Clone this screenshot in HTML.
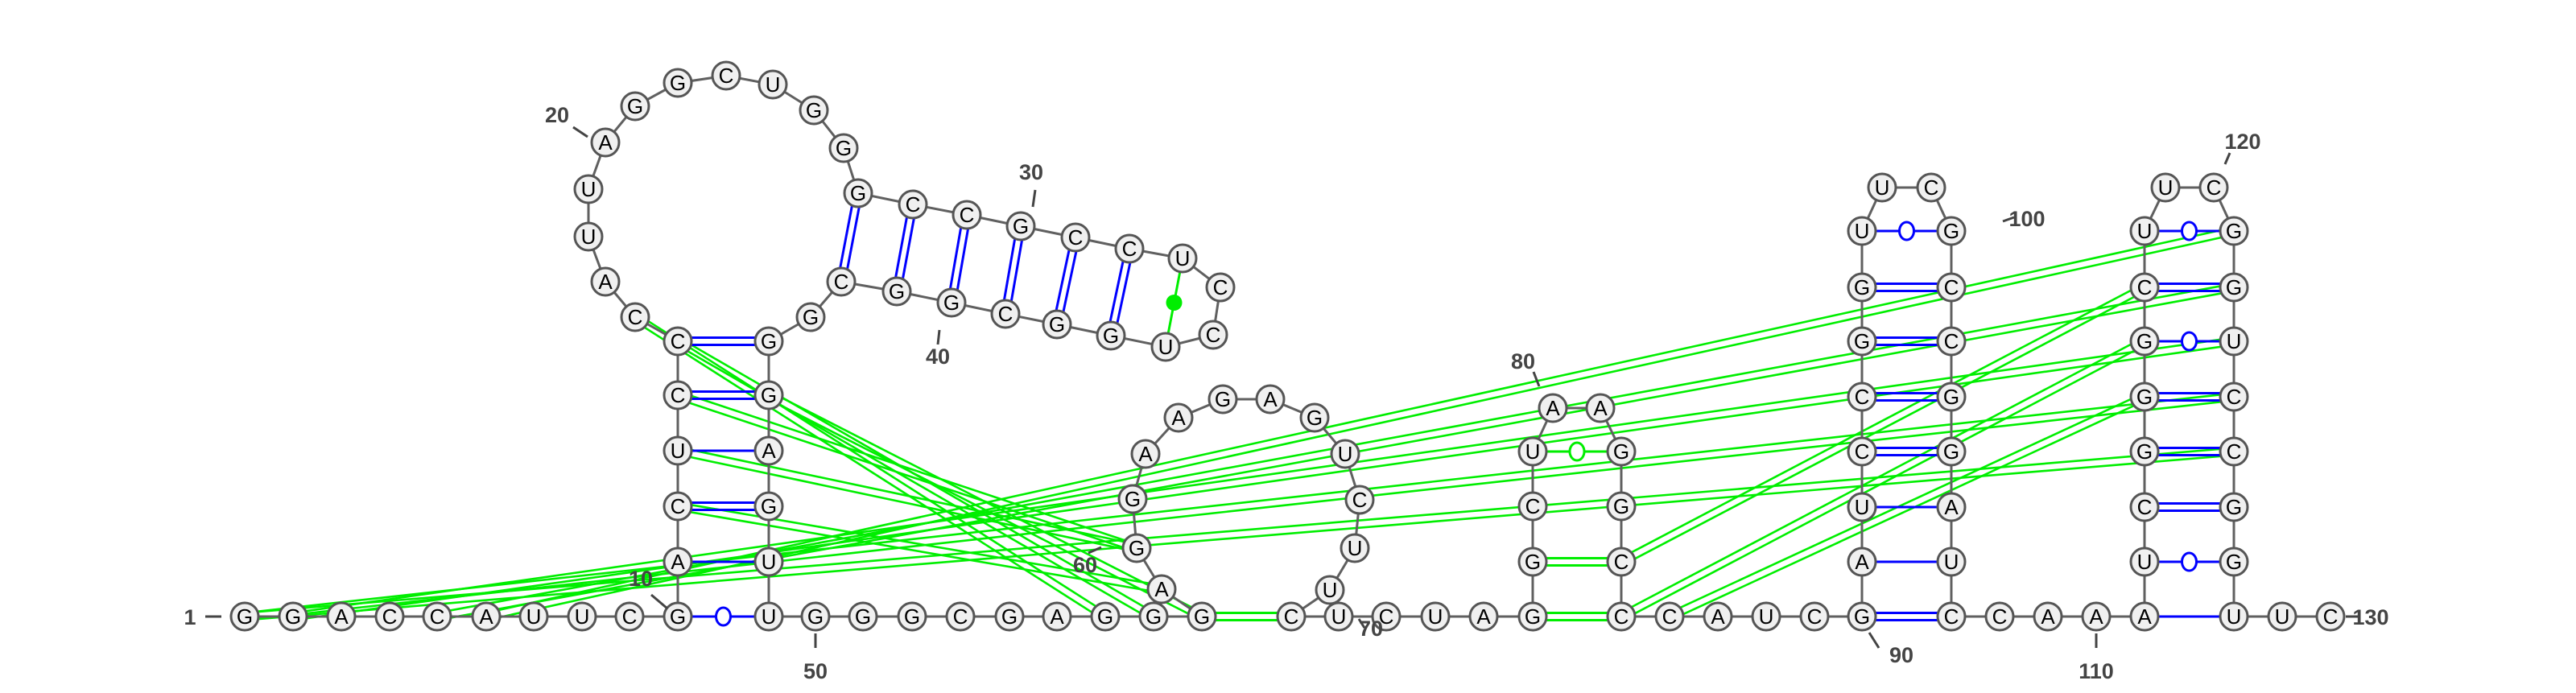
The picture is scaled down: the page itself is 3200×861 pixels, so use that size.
<!DOCTYPE html>
<html><head><meta charset="utf-8">
<style>
html,body{margin:0;padding:0;background:#fff;}
svg{display:block;}
text{font-family:"Liberation Sans",sans-serif;}
</style></head>
<body>
<svg id="chart" width="3200" height="861" viewBox="0 0 3200 861" xmlns="http://www.w3.org/2000/svg">
<g id="tert"></g>
<g id="backbone"></g>
<g id="pairs"></g>
<g id="nodes"></g>
<g id="labels"></g>
</svg>
<script>
// nucleotide coordinates in sequence order [x, y, base]
const nucleotides = [
[304,766,'G'],[364,766,'G'],[424,766,'A'],[484,766,'C'],[543,766,'C'],[604,766,'A'],[663,766,'U'],[723,766,'U'],[782,766,'C'],[842,766,'G'],
[842,698,'A'],[842,629,'C'],[842,560,'U'],[842,491,'C'],[842,424,'C'],
[789,394,'C'],[752,350,'A'],[731,294,'U'],[731,235,'U'],[752,177,'A'],[789,132,'G'],[842,103,'G'],[902,94,'C'],[960,105,'U'],[1011,137,'G'],[1048,184,'G'],[1066,240,'G'],
[1134,254,'C'],[1201,267,'C'],[1268,281,'G'],[1336,295,'C'],[1403,309,'C'],[1469,321,'U'],[1516,357,'C'],[1507,416,'C'],[1448,431,'U'],[1380,417,'G'],[1313,403,'G'],[1249,390,'C'],[1182,376,'G'],[1114,362,'G'],[1045,350,'C'],[1007,394,'G'],
[955,424,'G'],[955,491,'G'],[955,560,'A'],[955,629,'G'],[955,698,'U'],[955,766,'U'],
[1013,766,'G'],[1072,766,'G'],[1133,766,'G'],[1193,766,'C'],[1254,766,'G'],[1313,766,'A'],[1373,766,'G'],[1433,766,'G'],[1493,766,'G'],
[1443,732,'A'],[1412,681,'G'],[1407,620,'G'],[1423,564,'A'],[1464,519,'A'],[1519,496,'G'],[1578,496,'A'],[1633,519,'G'],[1671,564,'U'],[1689,621,'C'],[1683,681,'U'],[1652,733,'U'],
[1604,766,'C'],[1663,766,'U'],[1722,766,'C'],[1783,766,'U'],[1843,766,'A'],[1904,766,'G'],
[1904,698,'G'],[1904,629,'C'],[1904,561,'U'],[1929,507,'A'],[1988,507,'A'],[2014,561,'G'],[2014,629,'G'],[2014,698,'C'],[2014,766,'C'],
[2074,766,'C'],[2134,766,'A'],[2194,766,'U'],[2254,766,'C'],[2313,766,'G'],
[2313,698,'A'],[2313,630,'U'],[2313,561,'C'],[2313,493,'C'],[2313,424,'G'],[2313,357,'G'],[2313,287,'U'],[2338,233,'U'],[2399,233,'C'],
[2424,287,'G'],[2424,357,'C'],[2424,424,'C'],[2424,493,'G'],[2424,561,'G'],[2424,630,'A'],[2424,698,'U'],[2424,766,'C'],
[2484,766,'C'],[2544,766,'A'],[2604,766,'A'],[2664,766,'A'],
[2664,698,'U'],[2664,630,'C'],[2664,561,'G'],[2664,493,'G'],[2664,424,'G'],[2664,357,'C'],[2664,287,'U'],[2690,233,'U'],[2750,233,'C'],
[2775,287,'G'],[2775,357,'G'],[2775,424,'U'],[2775,493,'C'],[2775,561,'C'],[2775,630,'G'],[2775,698,'G'],[2775,766,'U'],
[2835,766,'U'],[2895,766,'C']
];
// base pairs: [i, j] indices into nucleotides, type, colour
const pairI = [9,10,11,12,13,14, 26,27,28,29,30,31,32, 75,76,78, 89,90,91,92,93,94,95,96, 110,111,112,113,114,115,116,117, 57];
const pairJ = [48,47,46,45,44,43, 41,40,39,38,37,36,35, 84,83,81, 106,105,104,103,102,101,100,99, 127,126,125,124,123,122,121,120, 70];
const pairT = ['gu','single','double','single','double','double', 'double','double','double','double','double','double','dot', 'double','double','gu', 'double','single','single','double','double','double','double','gu', 'single','gu','double','double','double','gu','double','gu', 'double'];
const pairC = ['b','b','b','b','b','b', 'b','b','b','b','b','b','g', 'g','g','g', 'b','b','b','b','b','b','b','b', 'b','b','b','b','b','b','b','b', 'g'];
// tertiary (long-range) interactions
const tertI = [5,4,1,0,0, 116,115,114, 15,14,44,13,12,11];
const tertJ = [120,121,122,123,124, 83,84,85, 55,56,57,59,59,58];
// position labels
const labelText = ['1','10','20','30','40','50','60','70','80','90','100','110','120','130'];
const labelX = [236,796,692,1281,1165,1013,1348,1703,1892,2362,2518,2604,2786,2945];
const labelY = [776,728,152,223,452,843,711,790,458,823,281,843,185,776];

const NS='http://www.w3.org/2000/svg';
function mk(tag,attrs,parent){const e=document.createElementNS(NS,tag);for(const k in attrs)e.setAttribute(k,attrs[k]);parent.appendChild(e);return e;}
const gT=document.getElementById('tert'),gB=document.getElementById('backbone'),gP=document.getElementById('pairs'),gN=document.getElementById('nodes'),gL=document.getElementById('labels');
const COL={b:'#0000ff',g:'#00ee00'};
function dbl(x1,y1,x2,y2,off,col,w,parent,name){
  const dx=x2-x1,dy=y2-y1,L=Math.hypot(dx,dy)||1,nx=-dy/L*off,ny=dx/L*off;
  for(const s of [1,-1]){
    const l=mk('line',{x1:x1+nx*s,y1:y1+ny*s,x2:x2+nx*s,y2:y2+ny*s,stroke:col,'stroke-width':w},parent);
    
    
  }
}
for(let k=0;k<tertI.length;k++){
  const a=nucleotides[tertI[k]],b=nucleotides[tertJ[k]];
  dbl(a[0],a[1],b[0],b[1],4.5,'#00ee00',2.6,gT,'tertiary-interaction');
}
let d='';
nucleotides.forEach((n,i)=>{d+=(i?'L':'M')+n[0]+' '+n[1];});
const bb=mk('path',{d:d,fill:'none',stroke:'#606060','stroke-width':3},gB);


for(let k=0;k<pairI.length;k++){
  const a=nucleotides[pairI[k]],b=nucleotides[pairJ[k]],col=COL[pairC[k]],t=pairT[k];
  if(t==='double'){dbl(a[0],a[1],b[0],b[1],4.5,col,3,gP,'base-pair');}
  else{
    const l=mk('line',{x1:a[0],y1:a[1],x2:b[0],y2:b[1],stroke:col,'stroke-width':3},gP);
    
    
    const mx=(a[0]+b[0])/2,my=(a[1]+b[1])/2;
    if(t==='gu'){
      const c=mk('ellipse',{cx:mx,cy:my,rx:9,ry:11,fill:'#fff',stroke:col,'stroke-width':3},gP);
      
      
    } else if(t==='dot'){
      const c=mk('circle',{cx:mx,cy:my,r:10,fill:col},gP);
      
      
    }
  }
}
nucleotides.forEach((n,i)=>{
  const g=mk('g',{},gN);
  
  
  mk('circle',{cx:n[0],cy:n[1],r:17,fill:'#f0f0f0',stroke:'#555','stroke-width':3},g);
  const t=mk('text',{x:n[0],y:n[1]+9,'text-anchor':'middle','font-size':26,fill:'#000'},g);
  t.textContent=n[2];
});
for(let k=0;k<labelText.length;k++){
  const t=mk('text',{x:labelX[k],y:labelY[k],'text-anchor':'middle','font-size':27,'font-weight':'bold',fill:'#444'},gL);
  t.textContent=labelText[k];
  
  
}
const ticks=[[255,766,275,766],[809,739,829,756],[712,158,730,170],[1286,236,1283,257],[1167,410,1165,428],[1013,787,1013,805],[1352,687,1368,680],[1688,769,1695,780],[1905,462,1912,480],[2322,786,2334,805],[2488,275,2502,270],[2604,787,2604,805],[2770,190,2764,204],[2914,766,2930,766]];
ticks.forEach(tk=>{
  const l=mk('line',{x1:tk[0],y1:tk[1],x2:tk[2],y2:tk[3],stroke:'#444','stroke-width':3},gL);
  
  
});
</script>
</body></html>
